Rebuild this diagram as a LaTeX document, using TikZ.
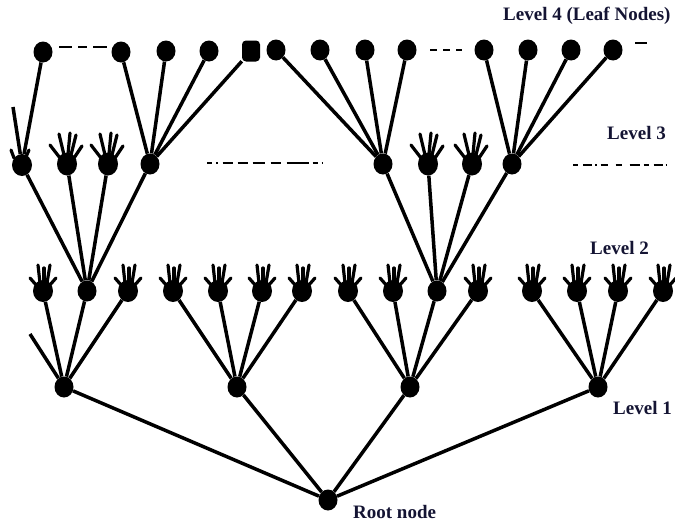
\documentclass[tikz,border=0pt]{standalone}
\usepackage{fontspec}
\setmainfont{Liberation Serif}
\usetikzlibrary{shapes.geometric}
\begin{document}
\begin{tikzpicture}[x=1pt,y=-1pt,
  dot/.style={ellipse,fill=black,draw=none,inner sep=0pt,minimum width=19pt,minimum height=21pt},
  sqdot/.style={rectangle,rounded corners=4pt,fill=black,draw=none,inner sep=0pt,minimum width=18pt,minimum height=21pt},
  edge/.style={line width=3.5pt},
  finger/.style={line width=3.2pt,line cap=round},
  gap/.style={line width=1.4pt},
  lbl/.style={font=\bfseries\fontsize{19}{22}\selectfont,anchor=west,inner sep=0pt,text={rgb,1:red,0.08;green,0.08;blue,0.2}},
  hand/.pic={
    \node[dot,minimum width=20pt,minimum height=22pt] (-b) at (0,0) {};
    \draw[finger] (-6,-5) -- (-13,-13);
    \draw[finger] (-3,-8) -- (-5,-26);
    \draw[finger] (1,-9) -- (1,-23);
    \draw[finger] (4,-8) -- (7,-26);
    \draw[finger] (6,-5) -- (13,-13);
  },
  bighand/.pic={
    \node[dot,minimum width=20pt,minimum height=23pt] (-b) at (0,0) {};
    \draw[finger] (-7,-6) -- (-17,-19);
    \draw[finger] (-3,-9) -- (-8,-30);
    \draw[finger] (1,-10) -- (3,-31);
    \draw[finger] (4,-9) -- (9,-29);
    \draw[finger] (7,-6) -- (15,-18);
  }]
\useasboundingbox (0,0) rectangle (675,522);
\clip (0,0) rectangle (675,522);

% root and level 1
\node[dot] (root) at (328,500) {};
\node[dot] (l1a) at (64,387) {};
\node[dot] (l1b) at (237,387) {};
\node[dot] (l1c) at (410,387) {};
\node[dot] (l1d) at (598,387) {};

% level 2
\pic (a1) at (43,291) {hand};
\node[dot] (a2) at (87,291) {};
\pic (a3) at (128,291) {hand};
\coordinate (a0) at (30,334);
\pic (b1) at (173,291) {hand};
\pic (b2) at (218,291) {hand};
\pic (b3) at (262,291) {hand};
\pic (b4) at (302,291) {hand};
\pic (c1) at (348,291) {hand};
\pic (c2) at (393,291) {hand};
\node[dot] (c3) at (437,291) {};
\pic (c4) at (478,291) {hand};
\pic (d1) at (532,291) {hand};
\pic (d2) at (577,291) {hand};
\pic (d3) at (618,291) {hand};
\pic (d4) at (663,291) {hand};

% level 3
\node[dot,minimum width=20pt,minimum height=22pt] (e1) at (22,165) {};
\draw[finger] (14,158) -- (11,150);
\draw[finger] (26,157) -- (29,150);
\coordinate (e0) at (13,107);
\pic (e2) at (67,164) {bighand};
\pic (e3) at (108,164) {bighand};
\node[dot] (e4) at (150,164) {};
\node[dot] (f1) at (383,164) {};
\pic (f2) at (428,164) {bighand};
\pic (f3) at (472,164) {bighand};
\node[dot] (f4) at (512,164) {};

% level 4 (leaves)
\node[dot] (g1) at (43,52) {};
\node[dot] (g2) at (121,52) {};
\node[dot] (g3) at (166,51) {};
\node[dot] (g4) at (209,51) {};
\node[sqdot] (g5) at (251,51) {};
\node[dot] (h1) at (276,50) {};
\node[dot] (h2) at (320,50) {};
\node[dot] (h3) at (365,50) {};
\node[dot] (h4) at (407,50) {};
\node[dot] (k1) at (484,50) {};
\node[dot] (k2) at (528,50) {};
\node[dot] (k3) at (571,50) {};
\node[dot] (k4) at (613,50) {};

% edges root - level 1
\foreach \n in {l1a,l1b,l1c,l1d} \draw[edge] (root) -- (\n);
% level 1 - level 2
\draw[edge] (l1a) -- (a0);
\draw[edge] (l1a) -- (a1-b);
\draw[edge] (l1a) -- (a2);
\draw[edge] (l1a) -- (a3-b);
\foreach \n in {b1-b,b2-b,b3-b,b4-b} \draw[edge] (l1b) -- (\n);
\foreach \n in {c1-b,c2-b,c3,c4-b} \draw[edge] (l1c) -- (\n);
\foreach \n in {d1-b,d2-b,d3-b,d4-b} \draw[edge] (l1d) -- (\n);
% level 2 - level 3
\foreach \n in {e1,e2-b,e3-b,e4} \draw[edge] (a2) -- (\n);
\foreach \n in {f1,f2-b,f3-b,f4} \draw[edge] (c3) -- (\n);
% level 3 - level 4
\draw[edge] (e1) -- (e0);
\draw[edge] (e1) -- (g1);
\foreach \n in {g2,g3,g4,g5} \draw[edge] (e4) -- (\n);
\foreach \n in {h1,h2,h3,h4} \draw[edge] (f1) -- (\n);
\foreach \n in {k1,k2,k3,k4} \draw[edge] (f4) -- (\n);

% gap marks
\coordinate (p1) at (59,47); \coordinate (p2) at (107,47);
\draw[gap,dash pattern=on 13pt off 6pt on 9pt off 6pt on 14pt off 4pt] (p1) -- (p2);
\coordinate (q1) at (430,50); \coordinate (q2) at (462,50);
\draw[gap,dash pattern=on 7pt off 6pt] (q1) -- (q2);
\coordinate (r1) at (635,43); \coordinate (r2) at (647,43);
\draw[gap] (r1) -- (r2);
\coordinate (s1) at (207,163); \coordinate (s2) at (325,163);
\draw[gap,dash pattern=on 5pt off 4pt on 1.5pt off 5pt on 10pt off 5pt on 10pt off 5pt on 12pt off 6pt on 10pt off 6pt on 22pt off 4pt] (s1) -- (s2);
\coordinate (t1) at (573,165); \coordinate (t2) at (668,165);
\draw[gap,dash pattern=on 5pt off 5pt on 9pt off 3pt on 1.5pt off 4pt on 7pt off 8pt on 6pt off 8pt on 10pt off 4pt] (t1) -- (t2);

% labels
\node[lbl] (lab4) at (503,16) {Level 4 (Leaf Nodes)};
\node[lbl] (lab3) at (607,133) {Level 3};
\node[lbl] (lab2) at (590,248) {Level 2};
\node[lbl] (lab1) at (613,408) {Level 1};
\node[lbl] (labr) at (353,512) {Root node};
\end{tikzpicture}
\end{document}
